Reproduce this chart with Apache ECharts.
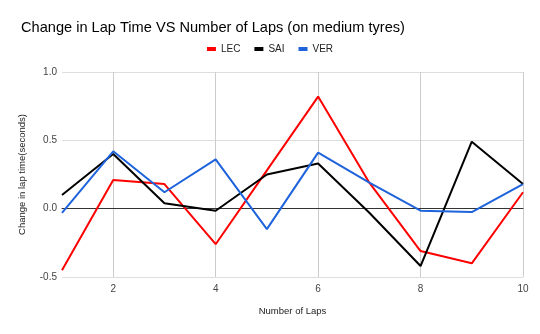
<!DOCTYPE html>
<html><head><meta charset="utf-8">
<script src="https://cdn.jsdelivr.net/npm/echarts@6/dist/echarts.min.js"></script>
<style>html,body{margin:0;padding:0;background:#fff}#c{width:540px;height:334px}</style>
</head><body><div id="c"></div>
<script>
const laps = ['1','2','3','4','5','6','7','8','9','10'];
const lec = [-0.45, 0.21, 0.18, -0.26, 0.28, 0.82, 0.19, -0.31, -0.40, 0.12];
const sai = [0.10, 0.40, 0.04, -0.015, 0.25, 0.33, -0.03, -0.42, 0.49, 0.18];
const ver = [-0.03, 0.42, 0.12, 0.36, -0.15, 0.41, 0.19, -0.015, -0.025, 0.18];
const yTicks = [-0.5, 0, 0.5, 1.0];

const chart = echarts.init(document.getElementById('c'));
const font = 'Liberation Sans, Arial, sans-serif';
function mk(name, data, color){
  return {name, type:'line', data, symbol:'none', lineStyle:{width:2, color}, itemStyle:{color}, animation:false};
}
chart.setOption({
  animation:false,
  title:{text:'Change in Lap Time VS Number of Laps (on medium tyres)', left:16, top:15,
    textStyle:{fontFamily:font, fontSize:14.6, fontWeight:'normal', color:'#000'}},
  legend:{top:39, left:'center', itemWidth:9, itemHeight:4, itemGap:14, icon:'rect',
    textStyle:{fontFamily:font, fontSize:10, color:'#222'}, data:['LEC','SAI','VER']},
  grid:{left:62, right:17, top:72, bottom:57},
  xAxis:{type:'category', data:laps, boundaryGap:false,
    name:'Number of Laps', nameLocation:'middle', nameGap:29,
    nameTextStyle:{fontFamily:font, fontSize:9.5, color:'#222'},
    axisLine:{onZero:true, lineStyle:{color:'#333', width:1}},
    axisTick:{show:false},
    axisLabel:{interval:(i)=> i%2===1, fontFamily:font, fontSize:10, color:'#444', margin:7},
    splitLine:{show:true, interval:(i)=> i%2===1, lineStyle:{color:'#ccc', width:1}}},
  yAxis:{type:'value', min:-0.5, max:1.0, interval:0.5,
    name:'Change in lap time(seconds)', nameLocation:'middle', nameGap:35,
    nameTextStyle:{fontFamily:font, fontSize:9.5, color:'#222'},
    axisLine:{show:false}, axisTick:{show:false},
    axisLabel:{formatter:(v)=>v.toFixed(1), fontFamily:font, fontSize:10, color:'#444', margin:5},
    splitLine:{show:true, lineStyle:{color:'#ddd', width:1}}},
  series:[mk('LEC', lec, '#ff0000'), mk('SAI', sai, '#000000'), mk('VER', ver, '#1f63dc')]
});
</script></body></html>
